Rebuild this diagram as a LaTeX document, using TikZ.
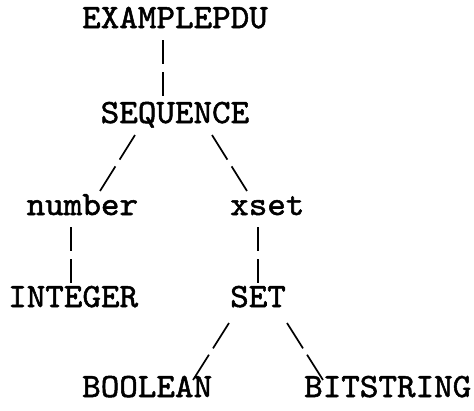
\documentclass[tikz,border=0pt]{standalone}
\usepackage{fontspec}
\usepackage{graphicx}
\newfontfamily\tyfont{lmmono10-regular.otf}[FakeBold=1.5]
\usetikzlibrary{calc}
\newcommand\tyt[1]{\scalebox{1.04}[1]{#1}}
\begin{document}
\begin{tikzpicture}[x=1pt,y=1pt,
  lbl/.style={anchor=base west,inner sep=0pt,font=\fontsize{34}{36}\selectfont\tyfont},
  conn/.style={line width=1.7pt,black},
  bar/.style={conn,dash pattern=on 24pt off 8pt},
  slant/.style={conn,dash pattern=on 29pt off 8pt},
  slantb/.style={conn,dash pattern=on 30pt off 7.5pt}]
\useasboundingbox (0,0) rectangle (474,-410);
\node[lbl] (EX)   at (82,-28)   {\tyt{EXAMPLEPDU}};
\node[lbl] (SEQ)  at (100.5,-123) {\tyt{SEQUENCE}};
\node[lbl] (NUM)  at (26.5,-215) {\tyt{number}};
\node[lbl] (XSET) at (230,-215) {\tyt{xset}};
\node[lbl] (INT)  at (8,-307)   {\tyt{INTEGER}};
\node[lbl] (SET)  at (230,-307) {\tyt{SET}};
\node[lbl] (BOOL) at (82,-397)  {\tyt{BOOLEAN}};
\node[lbl] (BIT)  at (304,-397) {\tyt{BITSTRING}};
\draw[bar]    ($(EX.base west)+(81,-12)$)    -- ($(SEQ.base west)+(62.5,27)$);
\draw[slant]  ($(SEQ.base west)+(34.5,-12)$) -- ($(NUM.base west)+(73.5,24)$);
\draw[slant]  ($(SEQ.base west)+(111.5,-12)$) -- ($(XSET.base west)+(17,24)$);
\draw[bar]    ($(NUM.base west)+(44.5,-12)$) -- ($(INT.base west)+(63,24)$);
\draw[bar]    ($(XSET.base west)+(28,-12)$)  -- ($(SET.base west)+(28,24)$);
\draw[slantb] ($(SET.base west)+(-1,-16)$)   -- ($(BOOL.base west)+(111,17)$);
\draw[slantb] ($(SET.base west)+(57,-16)$)   -- ($(BIT.base west)+(19,17)$);
\end{tikzpicture}
\end{document}
